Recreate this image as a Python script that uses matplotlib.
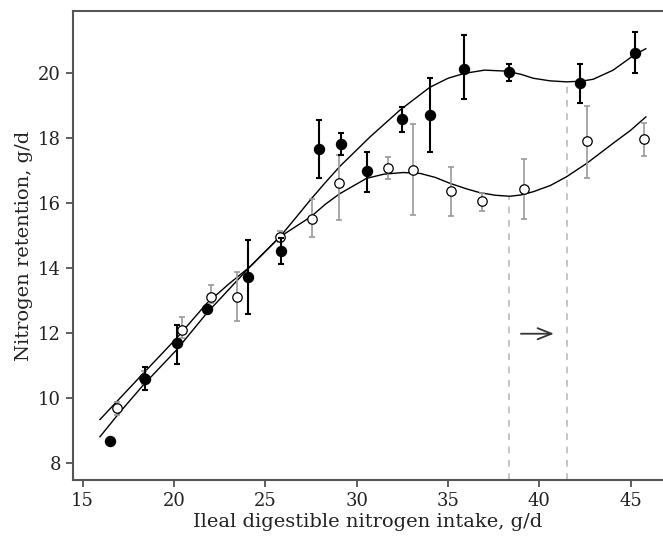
import numpy as np
import matplotlib.pyplot as plt

# filled points (black) - x, mean, error bar low / high
fx = [16.49, 18.41, 20.16, 21.80, 24.05, 25.88, 27.92, 29.12, 30.54, 32.46, 34.00, 35.89, 38.35, 42.22, 45.21]
fy = [8.69, 10.60, 11.70, 12.75, 13.73, 14.55, 17.67, 17.82, 16.99, 18.59, 18.72, 20.15, 20.03, 19.69, 20.62]
f_lo = [8.69, 10.25, 11.05, 12.65, 12.60, 14.15, 16.79, 17.49, 16.34, 18.20, 17.59, 19.20, 19.77, 19.10, 20.00]
f_hi = [8.69, 10.96, 12.25, 12.85, 14.87, 14.95, 18.56, 18.17, 17.59, 18.97, 19.86, 21.17, 20.29, 20.29, 21.28]

# open points (grey bars)
ox = [16.86, 18.37, 20.43, 22.02, 23.43, 25.82, 27.53, 29.05, 31.73, 33.06, 35.16, 36.87, 39.17, 42.60, 45.74]
oy = [9.72, 10.63, 12.10, 13.13, 13.13, 14.96, 15.52, 16.62, 17.08, 17.02, 16.37, 16.08, 16.44, 17.92, 17.97]
o_lo = [9.50, 10.45, 11.85, 12.95, 12.37, 14.80, 14.97, 15.49, 16.74, 15.64, 15.61, 15.77, 15.52, 16.79, 17.46]
o_hi = [9.90, 10.85, 12.49, 13.48, 13.89, 15.15, 16.13, 17.49, 17.42, 18.44, 17.13, 16.33, 17.37, 19.00, 18.46]

# fitted curves
fit_fx = [15.95, 17.0, 18.32, 20.14, 21.79, 23.0, 24.16, 25.8, 26.7, 27.5, 28.3, 29.1, 30.74, 32.37, 34.0,
          35.0, 35.89, 37.0, 38.2, 39.0, 39.67, 40.6, 41.49, 42.3, 42.95, 44.04, 45.2, 45.83]
fit_fy = [8.82, 9.55, 10.41, 11.49, 12.62, 13.35, 14.05, 14.97, 15.58, 16.13, 16.65, 17.15, 18.05, 18.87, 19.57,
          19.85, 20.0, 20.1, 20.07, 19.97, 19.85, 19.77, 19.74, 19.76, 19.82, 20.1, 20.57, 20.76]
fit_ox = [15.95, 17.0, 18.32, 20.14, 21.79, 23.0, 24.16, 25.8, 26.7, 27.5, 28.3, 29.08, 30.54, 31.5, 32.55,
          33.5, 34.3, 35.1, 36.0, 36.75, 37.6, 38.39, 39.0, 39.67, 40.6, 41.49, 42.59, 44.04, 45.0, 45.83]
fit_oy = [9.35, 9.98, 10.77, 11.85, 12.92, 13.52, 14.05, 14.97, 15.3, 15.59, 15.98, 16.3, 16.77, 16.9, 16.95,
          16.92, 16.8, 16.62, 16.45, 16.33, 16.25, 16.22, 16.26, 16.36, 16.55, 16.82, 17.23, 17.85, 18.25, 18.66]

# dashed marks and arrow
x_breaks = [38.35, 41.49]
y_breaks = [16.22, 19.74]
arrow_from = (38.84, 11.99)
arrow_to = (40.95, 11.99)

plt.rcParams['font.family'] = ['DejaVu Serif']

fig = plt.figure(figsize=(6.63, 5.39), dpi=100)
ax = fig.add_axes([0.110, 0.1095, 0.890, 0.8701])

for xb, yb in zip(x_breaks, y_breaks):
    ax.plot([xb, xb], [7.49, yb], color='#bbbbbb', lw=1.2, ls=(0, (4, 4)), zorder=1)

ax.plot(fit_fx, fit_fy, color='k', lw=1.0, zorder=2)
ax.plot(fit_ox, fit_oy, color='k', lw=1.0, zorder=2)

f_err = [np.array(fy) - np.array(f_lo), np.array(f_hi) - np.array(fy)]
o_err = [np.array(oy) - np.array(o_lo), np.array(o_hi) - np.array(oy)]

ax.errorbar(ox, oy, yerr=o_err, fmt='none', ecolor='#999999', elinewidth=1.2, capsize=2.5, capthick=1.2, zorder=3)
ax.plot(ox, oy, 'o', ms=6.8, mfc='white', mec='k', mew=0.9, zorder=4)
ax.errorbar(fx, fy, yerr=f_err, fmt='none', ecolor='k', elinewidth=1.5, capsize=2.5, capthick=1.5, zorder=5)
ax.plot(fx, fy, 'o', ms=7.2, color='k', zorder=6)

ax.annotate('', xy=arrow_to, xytext=arrow_from,
            arrowprops=dict(arrowstyle='->,head_length=1.0,head_width=0.4', color='#333333', lw=1.3))

ax.set_xlim(14.47, 46.77)
ax.set_ylim(7.49, 21.92)
ax.set_xticks([15, 20, 25, 30, 35, 40, 45])
ax.set_yticks([8, 10, 12, 14, 16, 18, 20])
ax.tick_params(direction='out', length=5, width=1.2, color='#444444', labelsize=13, labelcolor='#222222')
for s in ['left', 'bottom', 'top']:
    ax.spines[s].set_color('#555555')
    ax.spines[s].set_linewidth(1.5)
ax.spines['right'].set_visible(False)

ax.set_xlabel('Ileal digestible nitrogen intake, g/d', fontsize=14, color='#222222', labelpad=2)
ax.set_ylabel('Nitrogen retention, g/d', fontsize=14, color='#222222', labelpad=4)

fig.savefig('out.png', dpi=100)
